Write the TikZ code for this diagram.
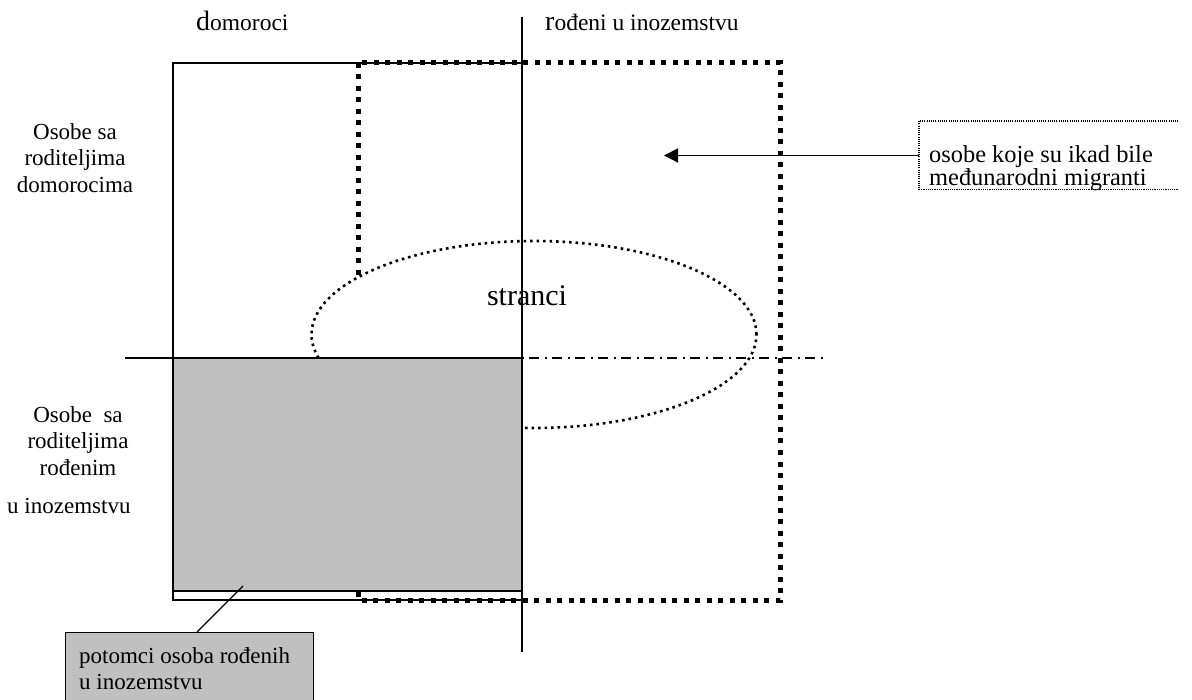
\documentclass[tikz,border=0pt]{standalone}
\usepackage{fontspec}
\setmainfont{Liberation Serif}
\usetikzlibrary{arrows.meta}
\definecolor{fillgray}{RGB}{192,192,192}
\begin{document}
\begin{tikzpicture}[x=1pt,y=-1pt,
  solidline/.style={line width=1.4pt},
  thickdot/.style={line width=5pt, dash pattern=on 5pt off 6.5pt},
  smalldot/.style={line width=2.6pt, dash pattern=on 2.6pt off 3.9pt},
  finedot/.style={line width=1.1pt, dash pattern=on 1.1pt off 1.1pt},
  dashdotline/.style={line width=1.4pt, dash pattern=on 2pt off 5pt on 10pt off 6pt},
  lbl/.style={inner sep=0pt, font=\fontsize{23}{26.5}\selectfont},
  arrowline/.style={line width=1.5pt, -{Triangle[length=14pt,width=14pt]}}
]
\useasboundingbox (0,0) rectangle (1192,700);

% headings
\node[lbl, anchor=base west, font=\fontsize{23.5}{28}\selectfont] (hdom) at (196,31) {{\fontsize{28}{28}\selectfont d}omoroci};
\node[lbl, anchor=base west, font=\fontsize{23.5}{28}\selectfont] (hfor) at (545,31) {{\fontsize{28}{28}\selectfont r}ođeni u inozemstvu};

% left labels
\node[lbl, align=center, anchor=north] (lnat) at (75,123.3) {Osobe sa\\roditeljima\\domorocima};
\node[lbl, align=center, anchor=north] (lfor) at (78,406.3) {Osobe~ sa\\roditeljima\\rođenim};
\node[lbl, anchor=base west] (lfor2) at (7,513) {u inozemstvu};

% solid rectangle (native-born)
\draw[solidline, fill=white] (173,63) rectangle (522,600);

% thick dotted rectangle (ever international migrants)
\draw[thickdot] (358,63) rectangle (780,600);

% ellipse (foreigners)
\draw[smalldot, fill=white] (534,334.5) ellipse [x radius=222.5pt, y radius=93.5pt];
\node[inner sep=0pt, anchor=base, font=\fontsize{30}{34}\selectfont] (stranci) at (527,306) {stranci};

% gray rectangle (descendants)
\draw[solidline, fill=fillgray] (173,358) rectangle (522,591);

% horizontal lines
\draw[dashdotline] (522,358) -- (825,358);
\draw[solidline] (125,358) -- (522,358);

% vertical line
\draw[solidline] (522,17) -- (522,652);

% box: ever international migrants
\node[inner sep=0pt, minimum width=259pt, minimum height=68pt, anchor=north west] (migrbox) at (919,121) {};
\draw[finedot] (migrbox.north east) -- (migrbox.north west) -- (migrbox.south west) -- (migrbox.south east);
\node[lbl, align=left, anchor=north west, font=\fontsize{24.4}{19.5}\selectfont] (migrtxt) at (929,145.5) {osobe koje su ikad bile\\međunarodni migranti};
\coordinate (arrtip) at (664,155.5);
\draw[arrowline] (migrbox.west |- arrtip) -- (arrtip);

% box: descendants of foreign-born
\node[draw, line width=1.2pt, fill=fillgray, inner sep=0pt, minimum width=248pt, minimum height=90pt, anchor=north west] (desc) at (65,632) {};
\node[lbl, align=left, anchor=north west, font=\fontsize{23}{26}\selectfont] (desctxt) at (79,647.3) {potomci osoba rođenih\\u inozemstvu};
\coordinate (gp) at (243,586);
\coordinate (lt) at (197,632);
\draw[line width=1.2pt] (gp) -- (lt);
\end{tikzpicture}
\end{document}
